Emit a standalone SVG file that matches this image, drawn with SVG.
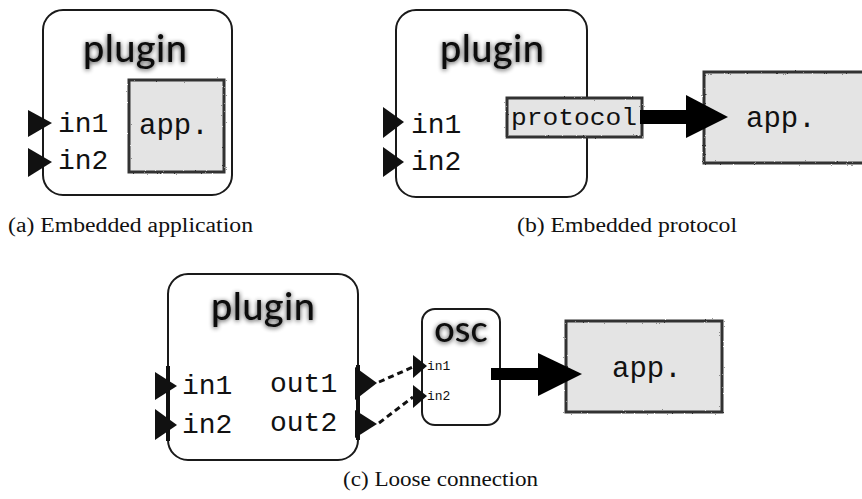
<svg xmlns="http://www.w3.org/2000/svg" width="862" height="499" viewBox="0 0 862 499">
<style>
.plug{fill:#fff;stroke:#1a1a1a;stroke-width:2}
.title{font-family:Lato,"Open Sans",sans-serif;font-weight:500;fill:#111;text-anchor:middle}
.mono{font-family:"Liberation Mono","Courier New",monospace;fill:#111}
.app{fill:#e4e4e4;stroke:#333;stroke-width:3}
.port{fill:#111}
.cap{font-family:"Liberation Serif","DejaVu Serif",serif;font-size:20px;fill:#111}
.dash{stroke:#111;stroke-width:3;stroke-dasharray:6 4;fill:none}
</style>
<defs>
<filter id="glow" x="-20%" y="-30%" width="140%" height="160%">
<feGaussianBlur in="SourceAlpha" stdDeviation="2.5" result="b"/>
<feOffset in="b" dx="0" dy="1" result="o"/>
<feComponentTransfer in="o" result="s"><feFuncA type="linear" slope="0.8"/></feComponentTransfer>
<feMerge><feMergeNode in="s"/><feMergeNode in="SourceGraphic"/></feMerge>
</filter>
<filter id="rough" x="-5%" y="-5%" width="110%" height="110%">
<feTurbulence type="fractalNoise" baseFrequency="0.9" numOctaves="2" result="n"/>
<feDisplacementMap in="SourceGraphic" in2="n" scale="2" xChannelSelector="R" yChannelSelector="G"/>
</filter>
</defs>

<!-- Panel (a) -->
<g id="plugin-a">
<rect class="plug" x="43" y="10" width="189" height="185" rx="20"/>
<text class="title" x="135" y="62" font-size="38" textLength="104" filter="url(#glow)">plugin</text>
<polygon class="port" points="28,110 52,123 28,137"/>
<polygon class="port" points="28,148 52,162 28,177"/>
<text class="mono" x="58" y="132" font-size="28">in1</text>
<text class="mono" x="58" y="169" font-size="28">in2</text>
</g>
<g id="app-a">
<rect class="app" x="129" y="80" width="95" height="92" filter="url(#rough)"/>
<text class="mono" x="139" y="134" font-size="29">app.</text>
</g>

<!-- Panel (b) -->
<g id="plugin-b">
<rect class="plug" x="396" y="10" width="191" height="187" rx="20"/>
<text class="title" x="492" y="62" font-size="38" textLength="104" filter="url(#glow)">plugin</text>
<polygon class="port" points="383,107 404,122 383,138"/>
<polygon class="port" points="383,147 404,162 383,177"/>
<text class="mono" x="411" y="133" font-size="28">in1</text>
<text class="mono" x="411" y="170" font-size="28">in2</text>
</g>
<g id="protocol-b">
<rect class="app" x="507" y="98" width="135" height="39" filter="url(#rough)"/>
<text class="mono" x="511" y="125" font-size="24" textLength="126" lengthAdjust="spacingAndGlyphs">protocol</text>
</g>
<g id="app-b">
<rect class="app" x="704" y="72" width="165" height="91" filter="url(#rough)"/>
<text class="mono" x="746" y="127" font-size="29">app.</text>
</g>

<!-- Panel (c) -->
<g id="plugin-c">
<rect class="plug" x="168" y="274" width="190" height="186" rx="20"/>
<text class="title" x="263" y="320" font-size="38" textLength="104" filter="url(#glow)">plugin</text>
<line x1="168" y1="366" x2="168" y2="441" stroke="#111" stroke-width="4"/>
<line x1="358" y1="365" x2="358" y2="440" stroke="#111" stroke-width="4"/>
<polygon class="port" points="155,372 177,386 155,400"/>
<polygon class="port" points="155,409 177,425 155,440"/>
<text class="mono" x="182" y="394" font-size="28">in1</text>
<text class="mono" x="182" y="433" font-size="28">in2</text>
<text class="mono" x="270" y="392" font-size="28">out1</text>
<text class="mono" x="270" y="431" font-size="28">out2</text>
<polygon class="port" points="355,367 377,383 355,400"/>
<polygon class="port" points="355,410 377,424 355,438"/>
</g>
<g id="osc-c">
<rect class="plug" x="422" y="309" width="78" height="116" rx="13"/>
<text class="title" x="461" y="342" font-size="36" filter="url(#glow)">osc</text>
<polygon class="port" points="413,355 427,366 413,378"/>
<polygon class="port" points="413,385 427,396 413,408"/>
<text class="mono" x="427" y="370" font-size="13">in1</text>
<text class="mono" x="427" y="400" font-size="13">in2</text>
</g>
<g id="app-c">
<rect class="app" x="566" y="321" width="156" height="91" filter="url(#rough)"/>
<text class="mono" x="612" y="377" font-size="29">app.</text>
</g>

<g id="connectors">
<rect x="640" y="110" width="48" height="14" fill="#000"/>
<polygon points="686,95 728,117 686,138" fill="#000"/>
<line class="dash" x1="379" y1="382" x2="413" y2="367"/>
<line class="dash" x1="379" y1="423" x2="413" y2="397"/>
<rect x="491" y="368" width="50" height="12" fill="#000"/>
<polygon points="538,353 582,374 538,396" fill="#000"/>
</g>

<g id="captions">
<text class="cap" x="8" y="232" textLength="245" lengthAdjust="spacingAndGlyphs">(a) Embedded application</text>
<text class="cap" x="517" y="232" textLength="220" lengthAdjust="spacingAndGlyphs">(b) Embedded protocol</text>
<text class="cap" x="343" y="486" textLength="195" lengthAdjust="spacingAndGlyphs">(c) Loose connection</text>
</g>
</svg>
